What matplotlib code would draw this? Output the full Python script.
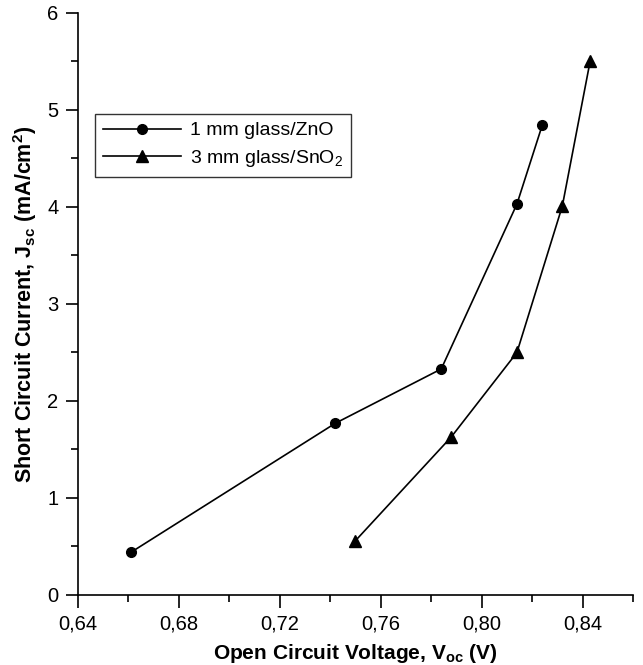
import numpy as np
import matplotlib
matplotlib.use('Agg')
import matplotlib.pyplot as plt
from matplotlib.ticker import MultipleLocator, FuncFormatter

plt.rcParams['font.family'] = ['Liberation Sans', 'DejaVu Sans']
plt.rcParams['mathtext.fontset'] = 'custom'
plt.rcParams['mathtext.rm'] = 'Liberation Sans'
plt.rcParams['mathtext.it'] = 'Liberation Sans:italic'
plt.rcParams['mathtext.bf'] = 'Liberation Sans:bold'

# 1 mm glass / ZnO
voc_zno = [0.661, 0.742, 0.784, 0.814, 0.824]
jsc_zno = [0.44, 1.77, 2.33, 4.03, 4.84]
# 3 mm glass / SnO2
voc_sno2 = [0.750, 0.788, 0.814, 0.832, 0.843]
jsc_sno2 = [0.56, 1.63, 2.50, 4.01, 5.50]

labels = ['1 mm glass/ZnO', '3 mm glass/SnO$_2$']

fig = plt.figure(figsize=(6.43, 6.65), dpi=100)
ax = fig.add_axes([0.1213, 0.1053, 0.8631, 0.8752])

ax.plot(voc_zno, jsc_zno, '-o', color='black', lw=1.2, ms=7, label=labels[0])
ax.plot(voc_sno2, jsc_sno2, '-^', color='black', lw=1.2, ms=8, label=labels[1])

ax.set_xlim(0.64, 0.86)
ax.set_ylim(0, 6)
ax.xaxis.set_major_locator(MultipleLocator(0.04))
ax.xaxis.set_minor_locator(MultipleLocator(0.02))
ax.yaxis.set_major_locator(MultipleLocator(1))
ax.yaxis.set_minor_locator(MultipleLocator(0.5))
ax.xaxis.set_major_formatter(FuncFormatter(lambda v, p: f'{v:.2f}'.replace('.', ',')))

for s in ['top', 'right']:
    ax.spines[s].set_visible(False)
for s in ['left', 'bottom']:
    ax.spines[s].set_linewidth(1.2)
ax.tick_params(which='major', direction='out', length=9, width=1.2, labelsize=14.5, pad=5)
ax.tick_params(which='minor', direction='out', length=5, width=1.2)

ax.set_xlabel('Open Circuit Voltage, V$_\\mathbf{oc}$ (V)', fontsize=15, fontweight='bold', labelpad=6)
ax.set_ylabel('Short Circuit Current, J$_\\mathbf{sc}$ (mA/cm$^\\mathbf{2}$)', fontsize=15.5, fontweight='bold', labelpad=6)

leg = ax.legend(loc='upper left', bbox_to_anchor=(0.0306, 0.8265), borderaxespad=0, fontsize=14,
                frameon=True, fancybox=False, edgecolor='black', handlelength=4.0, borderpad=0.4,
                labelspacing=0.45, handletextpad=0.5)
leg.get_frame().set_linewidth(1.0)

fig.savefig('out.png', dpi=100)
